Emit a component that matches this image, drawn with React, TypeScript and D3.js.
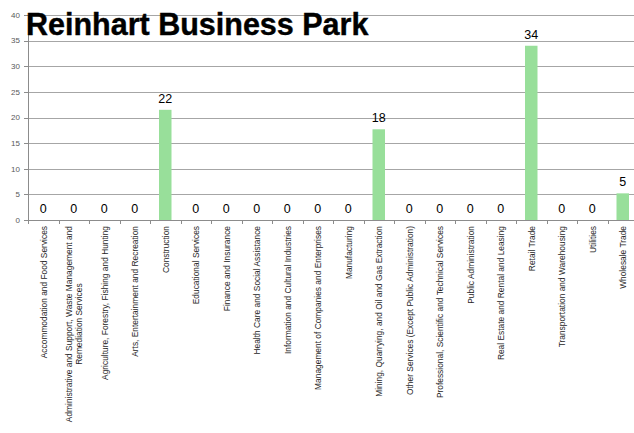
import React, { useEffect, useRef } from "react";
import * as d3 from "d3";

const title = "Reinhart Business Park";

const categories = [
  "Accommodation and Food Services",
  "Administrative and Support, Waste Management and\nRemediation Services",
  "Agriculture, Forestry, Fishing and Hunting",
  "Arts, Entertainment and Recreation",
  "Construction",
  "Educational Services",
  "Finance and Insurance",
  "Health Care and Social Assistance",
  "Information and Cultural Industries",
  "Management of Companies and Enterprises",
  "Manufacturing",
  "Mining, Quarrying, and Oil and Gas Extraction",
  "Other Services (Except Public Administration)",
  "Professional, Scientific and Technical Services",
  "Public Administration",
  "Real Estate and Rental and Leasing",
  "Retail Trade",
  "Transportation and Warehousing",
  "Utilities",
  "Wholesale Trade",
];

const values = [0, 0, 0, 0, 21.5, 0, 0, 0, 0, 0, 0, 17.7, 0, 0, 0, 0, 34, 0, 0, 5.2];

const yTicks = [0, 5, 10, 15, 20, 25, 30, 35, 40];

export default function App() {
  const ref = useRef<SVGSVGElement>(null);

  useEffect(() => {
    document.body.style.margin = "0";
    const svg = d3.select(ref.current);
    svg.selectAll("*").remove();

    const left = 28;
    const right = 638;
    const top = 15;
    const bottom = 220;

    const x = d3
      .scaleBand<string>()
      .domain(categories)
      .range([left, right])
      .paddingInner(0.59)
      .paddingOuter(0.295);
    const step = x.step();
    const y = d3.scaleLinear().domain([0, 40]).range([bottom, top]);

    const grid = svg.append("g").attr("shape-rendering", "crispEdges");
    grid
      .selectAll("line")
      .data(yTicks.filter((t) => t > 0))
      .join("line")
      .attr("x1", left)
      .attr("x2", right)
      .attr("y1", (d) => Math.round(y(d)) + 0.5)
      .attr("y2", (d) => Math.round(y(d)) + 0.5)
      .attr("stroke", "#a6a6a6")
      .attr("stroke-width", 1);

    // bars
    svg
      .append("g")
      .selectAll("rect")
      .data(values)
      .join("rect")
      .attr("x", (_, i) => x(categories[i])!)
      .attr("width", x.bandwidth())
      .attr("y", (d) => y(d))
      .attr("height", (d) => y(0) - y(d))
      .attr("fill", "#98df9a");

    // axes lines
    const axis = svg.append("g").attr("shape-rendering", "crispEdges");
    axis
      .append("line")
      .attr("x1", left + 0.5)
      .attr("x2", left + 0.5)
      .attr("y1", top)
      .attr("y2", bottom + 0.5)
      .attr("stroke", "#8c8c8c");
    axis
      .append("line")
      .attr("x1", left)
      .attr("x2", right)
      .attr("y1", bottom + 0.5)
      .attr("y2", bottom + 0.5)
      .attr("stroke", "#8c8c8c");
    axis
      .selectAll("line.yt")
      .data(yTicks)
      .join("line")
      .attr("class", "yt")
      .attr("x1", left - 4)
      .attr("x2", left)
      .attr("y1", (d) => Math.round(y(d)) + 0.5)
      .attr("y2", (d) => Math.round(y(d)) + 0.5)
      .attr("stroke", "#8c8c8c");
    axis
      .selectAll("line.xt")
      .data(d3.range(categories.length + 1))
      .join("line")
      .attr("class", "xt")
      .attr("x1", (i) => Math.round(left + i * step) + 0.5)
      .attr("x2", (i) => Math.round(left + i * step) + 0.5)
      .attr("y1", bottom)
      .attr("y2", bottom + 4)
      .attr("stroke", "#8c8c8c");

    // y labels
    svg
      .append("g")
      .selectAll("text")
      .data(yTicks)
      .join("text")
      .attr("x", 20)
      .attr("y", (d) => y(d))
      .attr("dy", "0.35em")
      .attr("text-anchor", "end")
      .attr("font-family", "Liberation Sans, Arial, sans-serif")
      .attr("font-size", 8)
      .attr("fill", "#595959")
      .text((d) => d);

    // value labels
    svg
      .append("g")
      .selectAll("text")
      .data(values)
      .join("text")
      .attr("x", (_, i) => x(categories[i])! + x.bandwidth() / 2)
      .attr("y", (d) => y(d) - 7)
      .attr("text-anchor", "middle")
      .attr("font-family", "Liberation Sans, Arial, sans-serif")
      .attr("font-size", 12.5)
      .attr("fill", "#000")
      .text((d) => d3.format(".0f")(d));

    // x labels
    const xl = svg.append("g");
    categories.forEach((c, i) => {
      const cx = x(c)! + x.bandwidth() / 2;
      const lines = c.split("\n");
      const g = xl
        .append("g")
        .attr("transform", `translate(${cx},226) rotate(-90)`);
      const lh = 10.5;
      const texts = lines.map((ln, j) =>
        g
          .append("text")
          .attr("y", (j - (lines.length - 1) / 2) * lh + 0.5)
          .attr("dy", "0.35em")
          .attr("font-family", "Liberation Sans, Arial, sans-serif")
          .attr("font-size", 8.4)
          .attr("fill", "#262626")
          .text(ln)
      );
      if (lines.length === 1) {
        texts[0].attr("x", 0).attr("text-anchor", "end");
      } else {
        const maxLen = d3.max(texts, (t) => (t.node() as SVGTextElement).getComputedTextLength()) || 0;
        texts.forEach((t) => t.attr("x", -maxLen / 2).attr("text-anchor", "middle"));
      }
    });

    // title
    svg
      .append("text")
      .attr("x", 26)
      .attr("y", 35)
      .attr("font-family", "Liberation Sans, Arial, sans-serif")
      .attr("font-weight", "bold")
      .attr("font-size", 30.5)
      .attr("fill", "#000")
      .attr("stroke", "#000")
      .attr("stroke-width", 0.4)
      .text(title);
  }, []);

  return <svg ref={ref} width={634} height={433} style={{ display: "block" }} />;
}
